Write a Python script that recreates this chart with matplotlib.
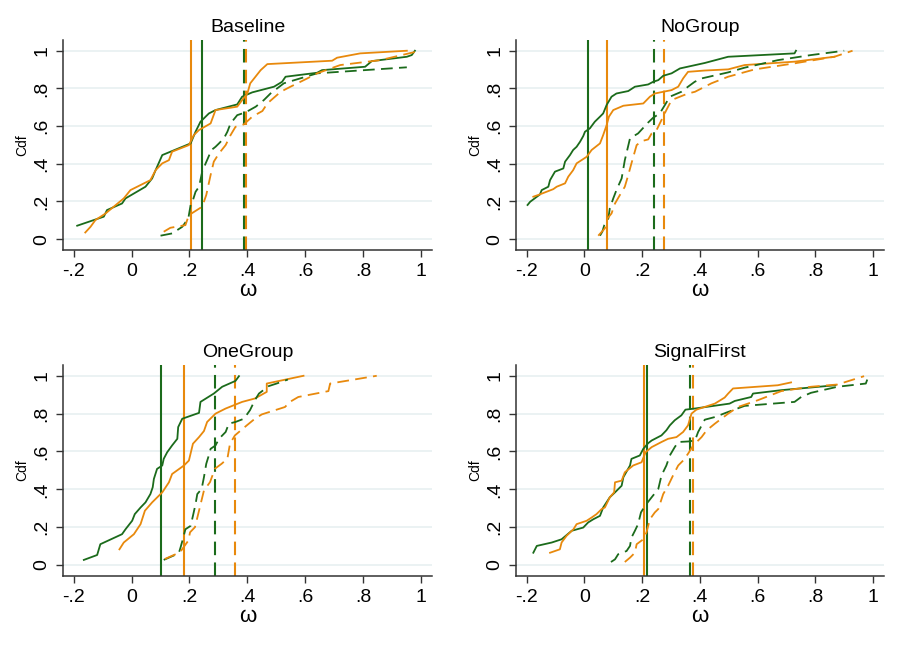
import matplotlib
matplotlib.use("Agg")
import matplotlib.pyplot as plt

plt.rcParams['font.family'] = ['Liberation Sans', 'DejaVu Sans']

GREEN = '#1b6b1b'
ORANGE = '#e8890c'
GRID = '#e8f0f1'

# ---- Baseline ----
BASE_GREEN_SOLID = [(-0.188, 0.071), (-0.096, 0.119), (-0.085, 0.154), (-0.033, 0.189), (-0.021, 0.216),
                    (0.048, 0.278), (0.071, 0.322), (0.083, 0.366), (0.106, 0.446), (0.204, 0.508),
                    (0.221, 0.570), (0.238, 0.623), (0.267, 0.667), (0.29, 0.685), (0.365, 0.715),
                    (0.382, 0.756), (0.417, 0.779), (0.492, 0.809), (0.52, 0.835), (0.532, 0.862),
                    (0.641, 0.883), (0.658, 0.897), (0.807, 0.915), (0.83, 0.945), (0.951, 0.968),
                    (0.968, 0.977), (0.979, 1.0)]
BASE_ORANGE_SOLID = [(-0.16, 0.035), (-0.142, 0.065), (-0.125, 0.101), (-0.09, 0.136), (-0.027, 0.216),
                     (-0.004, 0.26), (0.065, 0.313), (0.083, 0.366), (0.106, 0.402), (0.129, 0.419),
                     (0.14, 0.464), (0.198, 0.499), (0.215, 0.552), (0.233, 0.579), (0.273, 0.614),
                     (0.29, 0.685), (0.365, 0.703), (0.382, 0.738), (0.4, 0.773), (0.41, 0.827),
                     (0.446, 0.897), (0.469, 0.929), (0.693, 0.947), (0.71, 0.963), (0.79, 0.986),
                     (0.951, 1.0)]
BASE_GREEN_DASH = [(0.1, 0.018), (0.14, 0.03), (0.175, 0.065), (0.196, 0.11), (0.204, 0.181),
                   (0.212, 0.207), (0.221, 0.251), (0.233, 0.278), (0.244, 0.358), (0.256, 0.402),
                   (0.276, 0.473), (0.29, 0.49), (0.302, 0.508), (0.319, 0.535), (0.331, 0.57),
                   (0.342, 0.614), (0.365, 0.658), (0.394, 0.673), (0.429, 0.703), (0.457, 0.738),
                   (0.48, 0.773), (0.526, 0.827), (0.641, 0.88), (0.951, 0.912)]
BASE_ORANGE_DASH = [(0.111, 0.039), (0.134, 0.06), (0.186, 0.074), (0.198, 0.127), (0.244, 0.172),
                    (0.258, 0.234), (0.273, 0.34), (0.284, 0.411), (0.302, 0.455), (0.325, 0.499),
                    (0.342, 0.552), (0.359, 0.596), (0.388, 0.609), (0.417, 0.65), (0.452, 0.68),
                    (0.469, 0.72), (0.515, 0.782), (0.549, 0.809), (0.607, 0.853), (0.641, 0.88),
                    (0.721, 0.924), (0.859, 0.95), (0.997, 1.0)]
BASE_VLINES = [0.242, 0.205, 0.388, 0.397]  # green solid, orange solid, green dash, orange dash

# ---- NoGroup ----
NOGR_GREEN_SOLID = [(-0.197, 0.181), (-0.188, 0.198), (-0.154, 0.237), (-0.148, 0.26), (-0.125, 0.278),
                    (-0.119, 0.313), (-0.102, 0.358), (-0.073, 0.375), (-0.067, 0.411), (-0.05, 0.446),
                    (-0.039, 0.473), (-0.027, 0.49), (-0.015, 0.517), (-0.004, 0.547), (0.002, 0.57),
                    (0.019, 0.588), (0.036, 0.623), (0.054, 0.65), (0.065, 0.667), (0.077, 0.712),
                    (0.094, 0.756), (0.111, 0.773), (0.152, 0.786), (0.175, 0.809), (0.221, 0.821),
                    (0.238, 0.835), (0.256, 0.844), (0.273, 0.867), (0.302, 0.88), (0.331, 0.906),
                    (0.417, 0.935), (0.498, 0.968), (0.728, 0.986), (0.733, 1.0)]
NOGR_ORANGE_SOLID = [(-0.177, 0.225), (-0.16, 0.234), (-0.108, 0.265), (-0.096, 0.278), (-0.067, 0.296),
                     (-0.056, 0.331), (-0.039, 0.366), (-0.027, 0.402), (-0.01, 0.419), (0.008, 0.437),
                     (0.025, 0.473), (0.054, 0.508), (0.065, 0.552), (0.077, 0.605), (0.085, 0.65),
                     (0.1, 0.685), (0.135, 0.708), (0.204, 0.72), (0.227, 0.756), (0.244, 0.773),
                     (0.302, 0.791), (0.325, 0.809), (0.342, 0.853), (0.359, 0.888), (0.417, 0.895),
                     (0.498, 0.901), (0.555, 0.924), (0.728, 0.942), (0.866, 0.968)]
NOGR_GREEN_DASH = [(0.054, 0.018), (0.062, 0.039), (0.069, 0.074), (0.083, 0.11), (0.088, 0.163),
                   (0.1, 0.216), (0.111, 0.26), (0.129, 0.322), (0.14, 0.419), (0.158, 0.535),
                   (0.186, 0.561), (0.221, 0.619), (0.238, 0.644), (0.261, 0.667), (0.279, 0.712),
                   (0.296, 0.756), (0.336, 0.782), (0.359, 0.809), (0.382, 0.835), (0.406, 0.853),
                   (0.498, 0.885), (0.555, 0.91), (0.67, 0.95), (0.785, 0.977), (0.9, 1.0)]
NOGR_ORANGE_DASH = [(0.048, 0.018), (0.071, 0.057), (0.08, 0.11), (0.094, 0.136), (0.106, 0.189),
                    (0.123, 0.234), (0.14, 0.278), (0.152, 0.34), (0.163, 0.402), (0.181, 0.499),
                    (0.198, 0.52), (0.221, 0.529), (0.233, 0.561), (0.25, 0.579), (0.267, 0.632),
                    (0.284, 0.685), (0.302, 0.738), (0.331, 0.756), (0.359, 0.773), (0.383, 0.782),
                    (0.44, 0.827), (0.498, 0.862), (0.59, 0.901), (0.728, 0.933), (0.866, 0.968),
                    (0.929, 1.0)]
NOGR_VLINES = [0.011, 0.08, 0.242, 0.276]

# ---- OneGroup ----
ONEG_GREEN_SOLID = [(-0.165, 0.027), (-0.119, 0.053), (-0.108, 0.11), (-0.033, 0.163), (-0.021, 0.189),
                    (0.002, 0.234), (0.011, 0.269), (0.031, 0.304), (0.048, 0.331), (0.065, 0.375),
                    (0.073, 0.411), (0.077, 0.455), (0.088, 0.508), (0.106, 0.526), (0.111, 0.561),
                    (0.123, 0.596), (0.14, 0.632), (0.158, 0.667), (0.161, 0.729), (0.175, 0.773),
                    (0.233, 0.804), (0.238, 0.862), (0.284, 0.906), (0.313, 0.942), (0.359, 0.973),
                    (0.371, 0.998)]
ONEG_ORANGE_SOLID = [(-0.042, 0.083), (-0.027, 0.119), (0.008, 0.163), (0.031, 0.216), (0.046, 0.287),
                     (0.071, 0.331), (0.106, 0.384), (0.129, 0.437), (0.14, 0.481), (0.181, 0.526),
                     (0.198, 0.552), (0.212, 0.641), (0.233, 0.676), (0.25, 0.708), (0.261, 0.756),
                     (0.29, 0.8), (0.325, 0.827), (0.382, 0.862), (0.426, 0.88), (0.467, 0.915),
                     (0.467, 0.959), (0.594, 1.0)]
ONEG_GREEN_DASH = [(0.111, 0.027), (0.163, 0.062), (0.169, 0.092), (0.177, 0.136), (0.186, 0.189),
                   (0.204, 0.207), (0.212, 0.26), (0.221, 0.322), (0.227, 0.375), (0.242, 0.402),
                   (0.25, 0.464), (0.258, 0.535), (0.265, 0.57), (0.273, 0.614), (0.29, 0.632),
                   (0.302, 0.667), (0.325, 0.703), (0.336, 0.747), (0.359, 0.756), (0.388, 0.773),
                   (0.409, 0.818), (0.426, 0.871), (0.44, 0.906), (0.473, 0.945), (0.501, 0.959),
                   (0.54, 0.98)]
ONEG_ORANGE_DASH = [(0.115, 0.032), (0.167, 0.067), (0.196, 0.129), (0.202, 0.173), (0.219, 0.2),
                    (0.236, 0.306), (0.25, 0.394), (0.271, 0.438), (0.288, 0.509), (0.311, 0.535),
                    (0.331, 0.562), (0.34, 0.641), (0.357, 0.685), (0.398, 0.738), (0.426, 0.773),
                    (0.45, 0.796), (0.53, 0.835), (0.547, 0.862), (0.576, 0.888), (0.68, 0.919),
                    (0.686, 0.959), (0.847, 1.0)]
ONEG_VLINES = [0.102, 0.182, 0.287, 0.359]

# ---- SignalFirst ----
SIGF_GREEN_SOLID = [(-0.177, 0.065), (-0.165, 0.101), (-0.113, 0.119), (-0.079, 0.136), (-0.044, 0.181),
                    (-0.004, 0.198), (0.013, 0.225), (0.031, 0.242), (0.054, 0.26), (0.065, 0.304),
                    (0.088, 0.358), (0.106, 0.384), (0.129, 0.419), (0.135, 0.464), (0.158, 0.526),
                    (0.163, 0.561), (0.192, 0.579), (0.204, 0.614), (0.221, 0.644), (0.233, 0.658),
                    (0.267, 0.685), (0.284, 0.712), (0.296, 0.738), (0.313, 0.765), (0.336, 0.791),
                    (0.35, 0.821), (0.383, 0.827), (0.503, 0.853), (0.521, 0.867), (0.578, 0.888),
                    (0.584, 0.906), (0.682, 0.924), (0.87, 0.95)]
SIGF_ORANGE_SOLID = [(-0.119, 0.065), (-0.085, 0.083), (-0.079, 0.119), (-0.062, 0.154), (-0.038, 0.189),
                     (-0.027, 0.216), (0.008, 0.234), (0.025, 0.251), (0.042, 0.269), (0.06, 0.296),
                     (0.071, 0.304), (0.088, 0.358), (0.103, 0.384), (0.106, 0.437), (0.129, 0.446),
                     (0.14, 0.49), (0.169, 0.526), (0.198, 0.543), (0.212, 0.596), (0.233, 0.623),
                     (0.267, 0.65), (0.29, 0.667), (0.319, 0.676), (0.342, 0.703), (0.359, 0.738),
                     (0.371, 0.8), (0.388, 0.821), (0.452, 0.853), (0.486, 0.885), (0.498, 0.906),
                     (0.515, 0.933), (0.67, 0.95), (0.716, 0.965)]
SIGF_GREEN_DASH = [(0.092, 0.016), (0.106, 0.03), (0.117, 0.057), (0.146, 0.074), (0.158, 0.101),
                   (0.163, 0.145), (0.175, 0.181), (0.186, 0.216), (0.196, 0.278), (0.21, 0.313),
                   (0.233, 0.358), (0.256, 0.402), (0.267, 0.473), (0.284, 0.526), (0.296, 0.579),
                   (0.313, 0.623), (0.325, 0.65), (0.36, 0.653), (0.383, 0.658), (0.394, 0.703),
                   (0.417, 0.768), (0.452, 0.782), (0.498, 0.809), (0.555, 0.841), (0.728, 0.862),
                   (0.751, 0.888), (0.785, 0.91), (0.877, 0.942), (0.975, 0.959), (0.98, 0.98)]
SIGF_ORANGE_DASH = [(0.14, 0.016), (0.158, 0.039), (0.175, 0.065), (0.181, 0.11), (0.204, 0.136),
                    (0.215, 0.172), (0.227, 0.242), (0.244, 0.278), (0.256, 0.296), (0.273, 0.375),
                    (0.29, 0.419), (0.307, 0.473), (0.325, 0.526), (0.342, 0.552), (0.359, 0.588),
                    (0.377, 0.632), (0.406, 0.676), (0.423, 0.711), (0.452, 0.747), (0.498, 0.8),
                    (0.532, 0.835), (0.601, 0.871), (0.682, 0.919), (0.785, 0.942), (0.877, 0.954),
                    (0.969, 0.998)]
SIGF_VLINES = [0.216, 0.207, 0.365, 0.377]

PANELS = [
    ("Baseline", [63, 40, 432, 250], BASE_GREEN_SOLID, BASE_ORANGE_SOLID, BASE_GREEN_DASH, BASE_ORANGE_DASH, BASE_VLINES),
    ("NoGroup", [516, 40, 884, 250], NOGR_GREEN_SOLID, NOGR_ORANGE_SOLID, NOGR_GREEN_DASH, NOGR_ORANGE_DASH, NOGR_VLINES),
    ("OneGroup", [63, 365, 432, 576], ONEG_GREEN_SOLID, ONEG_ORANGE_SOLID, ONEG_GREEN_DASH, ONEG_ORANGE_DASH, ONEG_VLINES),
    ("SignalFirst", [516, 365, 884, 576], SIGF_GREEN_SOLID, SIGF_ORANGE_SOLID, SIGF_GREEN_DASH, SIGF_ORANGE_DASH, SIGF_VLINES),
]

XTICKS = [-0.2, 0, 0.2, 0.4, 0.6, 0.8, 1]
XTICKLABELS = ['-.2', '0', '.2', '.4', '.6', '.8', '1']
YTICKS = [0, 0.2, 0.4, 0.6, 0.8, 1]
YTICKLABELS = ['0', '.2', '.4', '.6', '.8', '1']

W, H = 899, 655
fig = plt.figure(figsize=(W / 100, H / 100), dpi=100)
DASH = (0, (6.5, 3.5))

for title, box, gs, os_, gd, od, vl in PANELS:
    x0, y0, x1, y1 = box
    ax = fig.add_axes([x0 / W, 1 - y1 / H, (x1 - x0) / W, (y1 - y0) / H])

    for y in YTICKS:
        ax.axhline(y, color=GRID, lw=1.2, zorder=0)

    ax.axvline(vl[0], color=GREEN, lw=1.5, zorder=1.5)
    ax.axvline(vl[1], color=ORANGE, lw=1.5, zorder=1.5)
    ax.axvline(vl[2], color=GREEN, lw=1.5, ls=DASH, zorder=1.5)
    ax.axvline(vl[3], color=ORANGE, lw=1.5, ls=DASH, zorder=1.5)

    for pts, col, ls in [(gs, GREEN, '-'), (os_, ORANGE, '-'), (gd, GREEN, DASH), (od, ORANGE, DASH)]:
        xs = [p[0] for p in pts]
        ys = [p[1] for p in pts]
        ax.plot(xs, ys, color=col, lw=1.3, ls=ls, zorder=2)

    ax.set_xlim(-0.237, 1.038)
    ax.set_ylim(-0.058, 1.057)
    ax.set_xticks(XTICKS)
    ax.set_xticklabels(XTICKLABELS)
    ax.set_yticks(YTICKS)
    ax.set_yticklabels(YTICKLABELS, rotation=90, va='center')
    ax.tick_params(axis='both', labelsize=14, length=5, width=1, color='#333333', pad=4)
    for side in ['top', 'right']:
        ax.spines[side].set_visible(False)
    for side in ['left', 'bottom']:
        ax.spines[side].set_color('#333333')
        ax.spines[side].set_linewidth(1.1)
    ax.set_title(title, fontsize=14, pad=6)
    ax.set_xlabel('ω', fontsize=16, labelpad=0)
    ax.set_ylabel('Cdf', fontsize=10, labelpad=3)

fig.savefig('out.png', dpi=100)
